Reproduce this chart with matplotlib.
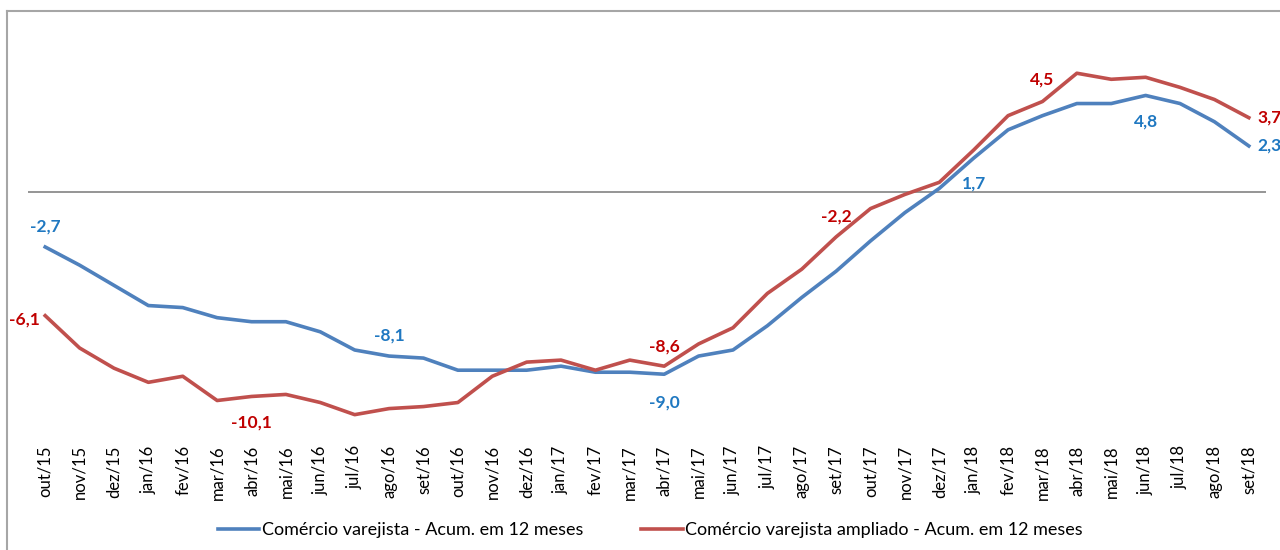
import numpy as np
import matplotlib
matplotlib.use("Agg")
import matplotlib.pyplot as plt
from matplotlib.lines import Line2D

# months on the x axis
meses = ["out/15", "nov/15", "dez/15", "jan/16", "fev/16", "mar/16", "abr/16", "mai/16",
         "jun/16", "jul/16", "ago/16", "set/16", "out/16", "nov/16", "dez/16", "jan/17",
         "fev/17", "mar/17", "abr/17", "mai/17", "jun/17", "jul/17", "ago/17", "set/17",
         "out/17", "nov/17", "dez/17", "jan/18", "fev/18", "mar/18", "abr/18", "mai/18",
         "jun/18", "jul/18", "ago/18", "set/18"]

# Comércio varejista - acum. em 12 meses (%)
varejista = [-2.7, -3.6, -4.6, -5.6, -5.7, -6.2, -6.4, -6.4, -6.9, -7.8, -8.1, -8.2,
             -8.8, -8.8, -8.8, -8.6, -8.9, -8.9, -9.0, -8.1, -7.8, -6.6, -5.2, -3.9,
             -2.4, -1.0, 0.2, 1.7, 3.1, 3.8, 4.4, 4.4, 4.8, 4.4, 3.5, 2.3]

# Comércio varejista ampliado - acum. em 12 meses (%)
ampliado = [-6.1, -7.7, -8.7, -9.4, -9.1, -10.3, -10.1, -10.0, -10.4, -11.0, -10.7, -10.6,
            -10.4, -9.1, -8.4, -8.3, -8.8, -8.3, -8.6, -7.5, -6.7, -5.0, -3.8, -2.2,
            -0.8, -0.1, 0.5, 2.1, 3.8, 4.5, 5.9, 5.6, 5.7, 5.2, 4.6, 3.7]

# which points carry a data label, and the label text
rot_var = {0: "-2,7", 10: "-8,1", 18: "-9,0", 27: "1,7", 32: "4,8", 35: "2,3"}
rot_amp = {0: "-6,1", 6: "-10,1", 18: "-8,6", 23: "-2,2", 29: "4,5", 35: "3,7"}

azul, vermelho = "#4F81BD", "#C0504D"
azul_txt, verm_txt = "#1F78C1", "#C00000"

plt.rcParams["font.family"] = ["Lato", "DejaVu Sans"]

fig = plt.figure(figsize=(12.8, 5.5), dpi=100)
ax = fig.add_axes([28 / 1280, 120 / 550, 1238 / 1280, 400 / 550])

x = np.arange(len(meses))
l1, = ax.plot(x, varejista, color=azul, lw=2.6, solid_joinstyle="round",
              label="Comércio varejista - Acum. em 12 meses")
l2, = ax.plot(x, ampliado, color=vermelho, lw=2.6, solid_joinstyle="round",
              label="Comércio varejista ampliado - Acum. em 12 meses")

ax.axhline(0, color="#8C8C8C", lw=1.3, zorder=0)
ax.set_xlim(-0.5, len(meses) - 0.5)
ax.set_ylim(-11.76, 8.04)
ax.set_yticks([])
ax.set_xticks(x)
ax.set_xticklabels(meses, rotation=90, fontsize=12)
ax.tick_params(axis="x", length=0, pad=11)
for s in ax.spines.values():
    s.set_visible(False)

# label placement (offset in points)
pos_var = {0: (0, 15), 10: (0, 15), 18: (0, -20), 27: (0, -18), 32: (0, -19), 35: (15, 0)}
pos_amp = {0: (-15, -3), 6: (0, -19), 18: (0, 14), 23: (0, 15), 29: (0, 16), 35: (15, 0)}

for i, t in rot_var.items():
    ax.annotate(t, (x[i], varejista[i]), xytext=pos_var[i], textcoords="offset points",
                ha="center", va="center", color=azul_txt, fontsize=12.5,
                fontweight="bold", annotation_clip=False)
for i, t in rot_amp.items():
    ax.annotate(t, (x[i], ampliado[i]), xytext=pos_amp[i], textcoords="offset points",
                ha="center", va="center", color=verm_txt, fontsize=12.5,
                fontweight="bold", annotation_clip=False)

fig.legend(handles=[l1, l2], loc="center", bbox_to_anchor=(0.508, 1 - 530 / 550),
           ncol=2, frameon=False, fontsize=13, handlelength=2.3,
           handletextpad=0.15, columnspacing=3.2)

# chart frame (left and top edges)
fig.add_artist(Line2D([7 / 1280, 7 / 1280], [0, 1 - 11 / 550], color="#A6A6A6", lw=1.5,
                      transform=fig.transFigure))
fig.add_artist(Line2D([7 / 1280, 1], [1 - 11 / 550, 1 - 11 / 550], color="#A6A6A6", lw=1.5,
                      transform=fig.transFigure))

fig.savefig("out.png", dpi=100)
